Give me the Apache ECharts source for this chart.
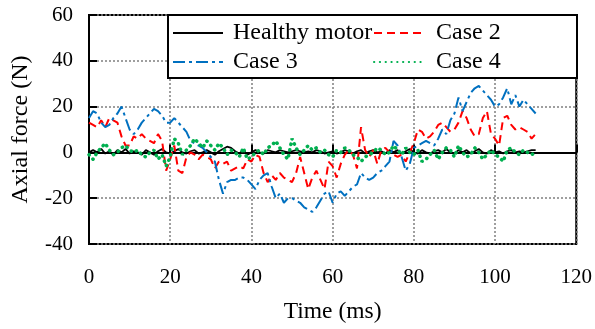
<!DOCTYPE html>
<html>
<head>
<meta charset="utf-8">
<script src="https://cdn.jsdelivr.net/npm/echarts@6/dist/echarts.min.js"></script>
<style>
  html, body { margin: 0; padding: 0; background: #fff; }
  #main { width: 595px; height: 329px; }
</style>
</head>
<body>
<div id="main"></div>
<script>
// time axis (ms), one sample per ms
var time = [];
for (var i = 0; i <= 110; i++) time.push(i);

var healthy = [0, 1, 0, 1.5, -0.5, 0.5, -1, 1, 0, 1.5, -0.5, 0.5, 0, -1, 1, 0, -1, 0.5, 1.5, 0,
  -0.5, 0.5, 1.5, 0, -0.5, 0.5, 1, -0.5, 0, 1, 0, -1, 0.5, 1.5, 2.5, 2, 0.5, -0.5, 1, -1,
  0, 1, 0, -0.5, 1, 0.5, 0, 1, 0.5, 0, 0.5, 1, 0.5, 0, 0.5, 0, 1, 0.5, -0.5, 0,
  0.5, -0.5, 0, 1, 0.5, -0.5, 0.5, 1, -0.5, 0.5, 1, 0, 0.5, -0.5, 1, 0, 1, -0.5, 0.5, 1.5,
  0, -0.5, 1, 0, -0.5, 0.5, 1, 0, 1.5, 0, -0.5, 1, 0, 1, -0.5, 0.5, 1.5, 0, -0.5, 1,
  0, 0.5, -0.5, 0.5, 1, 0, 0.5, 0, 0.5, 1, 1];

var case2 = [13, 12, 11, 14, 11, 15, 14, 13, 7, 3, 3, 7, 6, 8, 6, 5, 4, 8, 5, -8,
  -3, 3, -8, -9, -2, 0, -1, -3, -1, -2, -3, -7, -4, -5, -4, -8, -7, -6, -7, -3,
  -4, -1, -2, -9, -13, -10, -12, -9, -11, -12, -13, -9, -2, -9, -16, -11, -8, -12, -16, -4,
  -6, -11, -5, -1, 1, -1, -7, 11, 1, -2, 1, -5, 1, 2, 0, -1, -2, -1, -4, 0,
  4, 10, 9, 6, 7, 9, 12, 13, 11, 9, 10, 13, 18, 15, 10, 7, 8, 15, 18, 8,
  6, 3, 15, 16, 12, 10, 11, 10, 9, 6, 8];

var case3 = [15, 18, 17, 13, 11, 12, 15, 17, 20, 15, 10, 8, 10, 13, 15, 17, 19, 18, 16, 13,
  13, 15, 13, 11, 9, 5, 4, 3, 2, 0, -2, -4, -12, -18, -13, -12, -12, -11, -11, -12,
  -14, -16, -12, -10, -9, -15, -20, -18, -22, -20, -20, -21, -22, -24, -25, -26, -24, -21, -18, -17,
  -22, -18, -17, -19, -17, -15, -14, -9, -11, -12, -11, -9, -8, -6, -4, 5, 3, -2, -8, -5,
  2, 3, 4, 5, 4, 3, 6, 10, 8, 14, 17, 24, 18, 22, 26, 28, 29, 27, 25, 23,
  20, 21, 24, 28, 21, 25, 20, 23, 21, 19, 17];

var case4 = [-1, -3, 0, 2, 4, 1, -1, 0, 2, 3, 1, 0, 1, -1, -2, 0, 1, -3, -1, -6,
  -2, 6, 4, -1, 1, 3, 6, 4, 2, 5, 3, 1, 4, 2, -1, 1, 0, -2, 2, -3,
  -2, 0, 1, -1, 2, 3, 5, 2, -1, -3, 6, 2, -1, 1, 3, 1, 2, 0, 1, -1,
  -2, 1, 0, 2, 1, -1, -2, -4, -2, -1, 0, 2, 1, -1, 0, 3, 1, -1, 2, 0,
  -1, 1, -4, -3, -1, 1, -3, 0, 2, 1, -2, 3, 0, -2, -1, 2, 0, -3, -1, 1,
  -1, -2, -4, 1, 2, 0, -1, 1, 0, -1, 0];

var xTicks = [0, 20, 40, 60, 80, 100, 120];
var yTicks = [-40, -20, 0, 20, 40, 60];

function pairs(vals) {
  var out = [];
  for (var i = 0; i < vals.length; i++) out.push([time[i], vals[i]]);
  return out;
}

var font = 'Liberation Serif';
var chart = echarts.init(document.getElementById('main'));

var option = {
  animation: false,
  backgroundColor: '#fff',
  grid: {
    left: 89, right: 18, top: 15, bottom: 85,
    show: true, borderColor: '#000', borderWidth: 2
  },
  xAxis: {
    type: 'value',
    min: xTicks[0], max: xTicks[xTicks.length - 1], interval: 20,
    name: 'Time (ms)', nameLocation: 'middle', nameGap: 56,
    nameTextStyle: { fontFamily: font, fontSize: 23.5, color: '#000' },
    axisLine: { lineStyle: { color: '#000', width: 2 } },
    axisTick: { inside: true, length: 8, lineStyle: { color: '#000', width: 2 } },
    axisLabel: { fontFamily: font, fontSize: 21, color: '#000', margin: 23 },
    splitLine: { lineStyle: { color: '#808080', width: 1.5, type: [2, 2] } }
  },
  yAxis: {
    type: 'value',
    min: yTicks[0], max: yTicks[yTicks.length - 1], interval: 20,
    name: 'Axial force (N)', nameLocation: 'middle', nameGap: 56,
    nameTextStyle: { fontFamily: font, fontSize: 24, color: '#000' },
    axisLine: { show: true, lineStyle: { color: '#000', width: 2 } },
    axisTick: { show: true, inside: true, length: 8, lineStyle: { color: '#000', width: 2 } },
    axisLabel: { fontFamily: font, fontSize: 21, color: '#000', margin: 16 },
    splitLine: { lineStyle: { color: '#808080', width: 1.5, type: [2, 2] } }
  },
  graphic: [{
    type: 'rect', z: 3,
    shape: { x: 168, y: 15, width: 409, height: 63 },
    style: { fill: '#fff', stroke: '#000', lineWidth: 2 }
  }],
  legend: [{
    data: ['Healthy motor', 'Case 3'],
    orient: 'vertical', left: 172, top: 21, z: 5,
    itemWidth: 50, itemHeight: 14, itemGap: 5, padding: 0,
    itemStyle: { opacity: 0 },
    textStyle: { fontFamily: font, fontSize: 24, color: '#000', lineHeight: 24, padding: [0, 0, 0, 5] }
  }, {
    data: ['Case 2', 'Case 4'],
    orient: 'vertical', left: 373, top: 21, z: 5,
    itemWidth: 49, itemHeight: 14, itemGap: 5, padding: 0,
    itemStyle: { opacity: 0 },
    textStyle: { fontFamily: font, fontSize: 24, color: '#000', lineHeight: 24, padding: [0, 0, 0, 8] }
  }],
  series: [{
    name: 'Healthy motor', type: 'line', symbol: 'none',
    data: pairs(healthy),
    lineStyle: { color: '#000', width: 1.8 }, itemStyle: { color: '#000' }
  }, {
    name: 'Case 2', type: 'line', symbol: 'none',
    data: pairs(case2),
    lineStyle: { color: '#ff0000', width: 2, type: [8, 5] }, itemStyle: { color: '#ff0000' }
  }, {
    name: 'Case 3', type: 'line', symbol: 'none',
    data: pairs(case3),
    lineStyle: { color: '#0070c0', width: 2, type: [12, 4, 3, 4] }, itemStyle: { color: '#0070c0' }
  }, {
    name: 'Case 4', type: 'line', symbol: 'none',
    data: pairs(case4),
    lineStyle: { color: '#00b050', width: 3.5, type: [0.3, 5.5], cap: 'round' }, itemStyle: { color: '#00b050' }
  }]
};

chart.setOption(option);
</script>
</body>
</html>
